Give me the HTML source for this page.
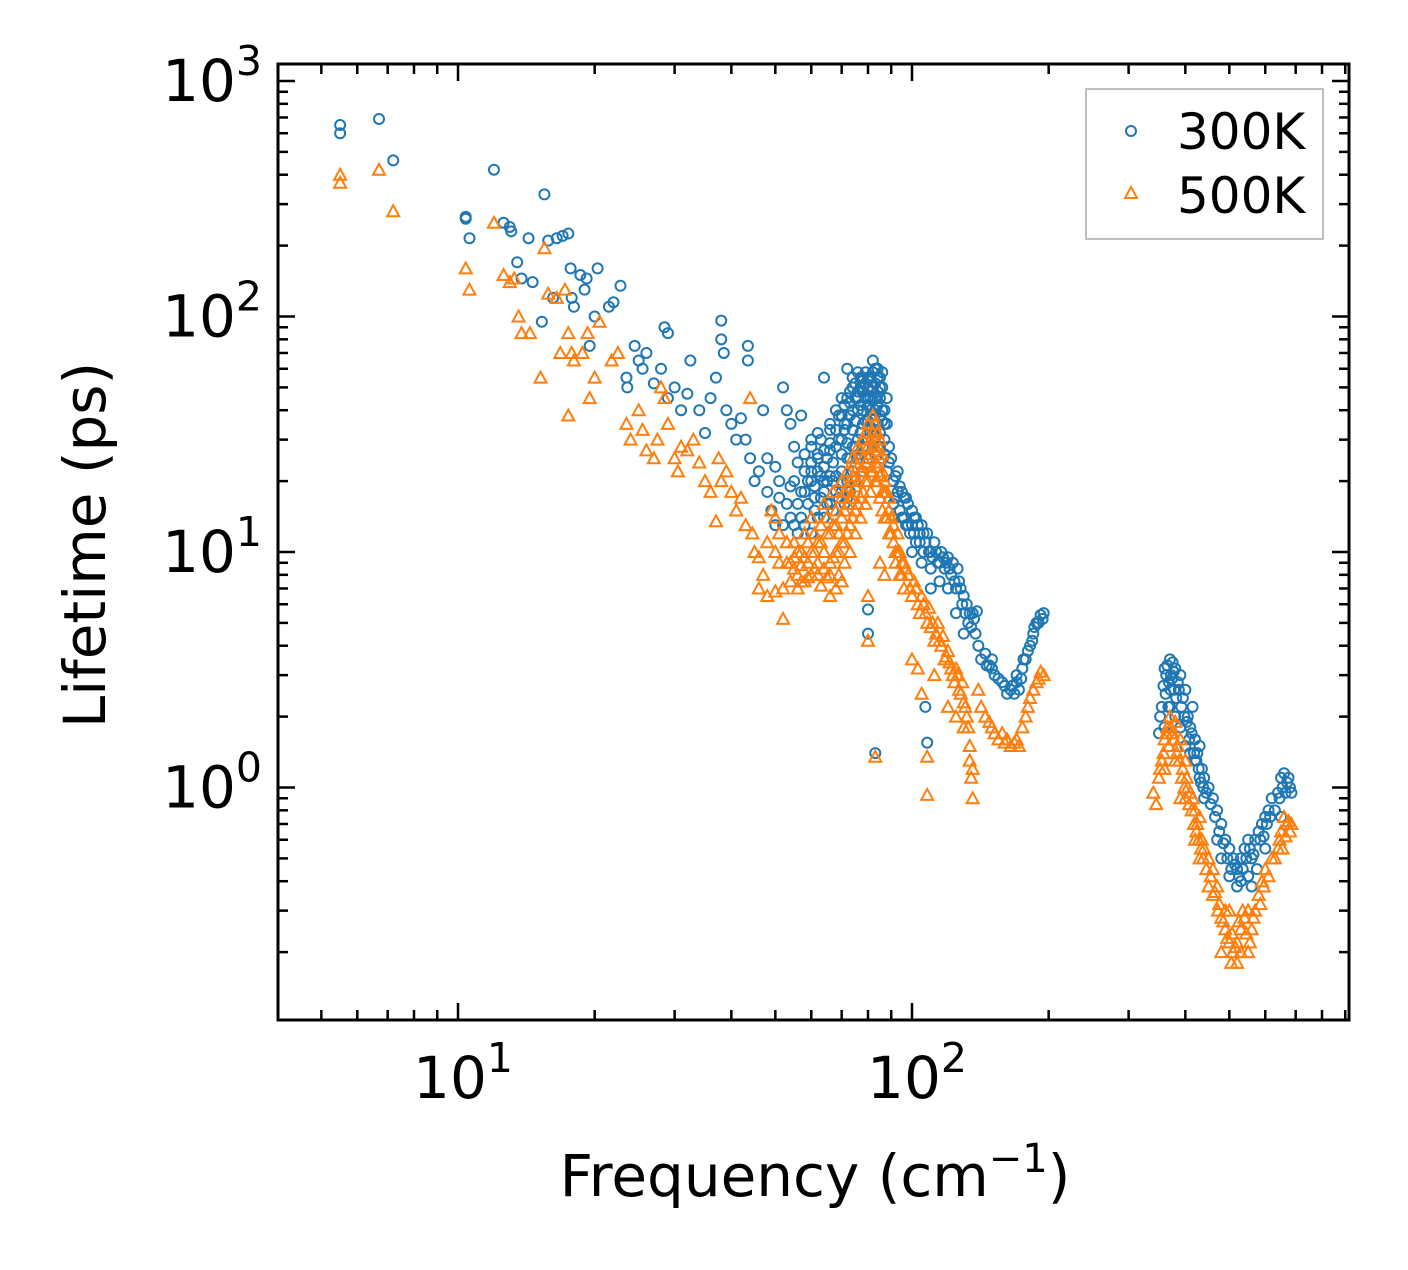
<!DOCTYPE html>
<html><head><meta charset="utf-8"><style>
html,body{margin:0;padding:0;background:#fff;}
svg{display:block;font-family:"DejaVu Sans","Liberation Sans",sans-serif;}
</style></head><body>
<svg id="chart" width="1408" height="1270" viewBox="0 0 1408 1270" xmlns="http://www.w3.org/2000/svg">
<g id="marks300"></g>
<g id="marks500"></g>
<g id="ticks"></g>
<rect x="278" y="64" width="1071" height="956" fill="none" stroke="#000" stroke-width="3"/>
<text x="815" y="1196" font-size="58" text-anchor="middle">Frequency (cm<tspan dy="-24" font-size="40">−1</tspan><tspan dy="24">)</tspan></text>
<text transform="translate(105,545) rotate(-90)" font-size="58" text-anchor="middle">Lifetime (ps)</text>
<g>
<rect x="1086" y="89" width="237" height="150" fill="#fff" stroke="#aaa" stroke-width="1.5"/>
<circle cx="1131" cy="131" r="5" fill="none" stroke="#1f77b4" stroke-width="2"/>
<text x="1177" y="149" font-size="50">300K</text>
<path d="M1131,187 L1137,198 L1125,198 Z" fill="none" stroke="#ff7f0e" stroke-width="2"/>
<text x="1177" y="213" font-size="50">500K</text>
</g>
</svg>
<script>
const xTickExps = [1, 2];
const yTickExps = [0, 1, 2, 3];
const pts300 = [[5.5,650],[5.5,600],[6.7,690],[7.2,460],[10.4,265],[10.4,260],[10.6,215],[12,420],[12.6,250],[13,240],[13.1,230],[13.5,170],[13.8,145],[14.3,215],[14.6,140],[15.3,95],[15.5,330],[15.8,210],[16.2,120],[16.5,215],[17,220],[17.5,225],[17.7,160],[17.8,120],[18,110],[18.6,150],[19,130],[19.2,145],[19.5,75],[20,100],[20.3,160],[21.5,110],[22,115],[22.8,135],[23.5,55],[23.6,50],[24.5,75],[25,65],[25.5,60],[26,70],[27,52],[28,60],[28.5,90],[29,85],[29,45],[30,50],[31,40],[32,47],[32.5,65],[34,40],[35,32],[36,45],[37,55],[38,96],[38,80],[38.5,70],[39,40],[40,35],[41,30],[42,37],[43,30],[43.5,65],[43.5,75],[44,25],[45,20],[46,22],[47,40],[48,25],[50,23],[51,20],[52,50],[53,40],[54,35],[55,28],[57,38],[58,26],[60,30],[62,32],[64,55],[66,35],[68,40],[70,45],[72,60],[74,55],[76,48],[78,50],[80,45],[82,65],[84,60],[86,50],
[60,20],[60,28],[61,15],[62,22],[63,30],[64,18],[65,25],[66,33],[67,20],[68,28],[69,38],[70,22],[70,30],[71,42],[72,25],[72,35],[73,48],[74,28],[74,40],[75,52],[76,30],[76,45],[77,55],[78,35],[78,48],[79,58],[80,30],[80,42],[81,55],[82,38],[82,50],[83,60],[84,35],[84,48],[85,55],[86,40],[87,30],[88,35],[89,28],[90,25],[70,18],[72,17],[75,20],[78,22],[80,25],[82,28],[85,28],[66,16],[64,14],[58,18],[56,16],[54,14],[52,13],[80,5.7],[80,4.5],[83,1.4],[108,1.55],[107,2.2],
[55,20],[56,24],[57,18],[58,22],[59,16],[60,24],[61,19],[62,26],[63,17],[64,23],[65,20],[66,27],[67,24],[68,21],[69,30],[70,26],[71,33],[72,29],[73,38],[74,33],[75,36],[76,40],[77,42],[78,40],[79,45],[80,50],[81,45],[82,44],[83,52],[84,42],[85,45],[86,36],[87,40],[88,45],[73,25],[75,28],[77,32],[79,36],[81,34],[83,40],[85,38],[87,35],[71,35],[73,43],[75,45],[77,50],[79,52],[81,48],[83,45],[85,50],[86,58],[84,55],[82,58],[80,55],[78,55],[76,58],[74,50],[72,45],[70,38],[68,33],[66,29],[64,27],[62,25],[60,22],[77,26],[79,30],[81,40],[83,33],[85,32],[87,26],[89,24],[88,22],[86,25],[84,28],[82,32],[80,36],[78,28],[76,25],[74,22],[72,20],[70,20],[68,18],[66,21],[64,20],
[48,18],[49,15],[50,13],[51,17],[53,16],[54,19],[55,13],[56,12],[57,14],[58,13],[59,20],[60,12],[61,17],[62,14],[63,21],[65,16],[67,15],[69,17],[71,16],[73,18],
[91,20],[92,17],[93,22],[94,15],[95,18],[96,14],[97,17],[98,13],[100,15],[101,12],[102,14],[104,11],[105,13],[106,10],[108,12],[110,10],[112,11],[114,9],[116,10],[118,8.5],[120,9.5],[122,8],[124,7.5],[126,8.5],[128,7],[130,6.5],[132,6],[134,5.5],[136,5.5],[138,4.5],[140,4],[145,3.7],[148,3.3],[150,3.2],[155,2.9],[160,2.7],[165,2.6],[170,2.8],[175,3.2],[178,3.5],[182,4],[185,4.5],[188,5],[192,5.4],[195,5.5],[172,2.6],[168,2.5],[110,7],[115,7.5],[125,5.5],[130,4.5],
[91,16],[92,21],[93,18],[94,19],[95,14],[96,17],[97,13],[98,16],[99,12],[100,13],[101,14],[102,11],[103,13],[104,12],[106,12],[107,11],[109,10],[111,9.5],[113,10],[115,9],[117,9.5],[119,9],[121,8.5],[123,9],[125,7],[127,7.5],[129,6],[131,5.5],[133,5],[135,4.8],[137,5.2],[139,5.6],[142,3.5],[146,3.3],[152,3.0],[158,2.8],[162,2.5],[166,2.7],[174,2.9],[176,3.5],[180,3.8],[184,4.2],[186,4.8],[190,5],[194,5.2],[100,10],[105,9],[110,8.5],[120,7],[150,3.5],[170,3],
[350,1.7],[355,2.2],[360,3.2],[362,2.5],[365,3.3],[368,2.8],[370,3.5],[372,3],[375,3.4],[378,2.6],[380,3.2],[385,2.8],[390,3.0],[395,2.4],[400,2.6],[405,2.0],[410,1.8],[415,2.2],[420,1.6],[425,1.4],[430,1.5],[435,1.2],[440,1.1],[450,1.0],[460,0.9],[470,0.8],[480,0.7],[490,0.6],[500,0.55],[510,0.5],[520,0.45],[530,0.5],[540,0.55],[550,0.6],[560,0.5],[570,0.6],[580,0.65],[590,0.7],[600,0.75],[610,0.8],[620,0.9],[640,0.95],[650,1.1],[660,1.15],[670,1.05],[680,1.0],[360,1.8],[380,2.0],[400,1.5],[420,1.3],[440,0.9],[480,0.5],[500,0.42],[520,0.38],[550,0.42],[575,0.45],[600,0.55],[650,0.75],
[352,2.0],[358,2.7],[363,3.0],[367,2.2],[371,2.6],[374,2.9],[377,3.1],[382,2.4],[387,2.6],[392,2.2],[398,2.0],[403,1.9],[408,1.6],[413,1.7],[418,1.4],[423,1.3],[428,1.2],[433,1.05],[438,1.0],[445,0.95],[455,0.85],[465,0.75],[475,0.65],[485,0.58],[495,0.5],[505,0.45],[515,0.47],[525,0.42],[535,0.45],[545,0.5],[555,0.55],[565,0.52],[585,0.6],[595,0.62],[605,0.7],[615,0.75],[630,0.8],[645,0.9],[655,1.0],[665,0.95],[675,1.1],[685,0.95],[370,2.2],[390,1.8],[410,1.4],[430,1.1],[470,0.6],[530,0.4],[560,0.38]];
const pts500 = [[5.5,400],[5.5,370],[6.7,420],[7.2,280],[10.4,160],[10.6,130],[12,250],[12.6,150],[13,140],[13.3,145],[13.6,100],[13.8,85],[14.4,85],[15.2,55],[15.5,195],[15.8,125],[16.5,120],[16.8,70],[17.2,130],[17.5,85],[17.5,38],[17.8,70],[18,65],[18.8,70],[19.3,85],[19.5,45],[20,55],[20.5,95],[21.8,65],[22.5,70],[23.5,35],[24,30],[25,40],[25.5,33],[26,27],[27,25],[27.5,30],[28,50],[28.5,45],[29,35],[30,25],[30.5,22],[31,28],[32,27],[33,30],[34,24],[35,20],[36,18],[37,13.5],[37.5,25],[38,20],[39,22],[40,18],[41,15],[42,17],[43,13],[44,45],[44.5,12],[45,10],[46,9.5],[47,8],[48,11],[49,15],[50,14],[51,12],
[46,7],[48,6.5],[50,6.8],[52,5.2],[52,7],[53,9],[55,8.5],[56,10],[57,7.5],[58,12],[59,9],[60,14],[61,10],[62,8],[63,11],[64,16],[65,12],[66,9],[67,18],[68,13],[69,8],[70,20],[70,14],[71,11],[72,22],[72,16],[73,10],[74,25],[74,17],[75,12],[76,28],[76,20],[77,14],[78,30],[78,22],[79,16],[80,35],[80,25],[81,18],[82,38],[82,28],[83,20],[84,32],[84,23],[85,17],[86,26],[86,15],[87,20],[88,14],[89,17],[90,12],[68,7],[70,7.5],[66,6.5],[80,6.5],[80,4.2],[83,1.35],[85,9],[87,8],
[54,9],[55,11],[56,8],[57,10],[58,9.5],[59,11],[60,10],[61,12],[62,11],[63,13],[64,10],[65,14],[66,12],[67,13],[68,15],[69,12],[70,17],[71,15],[72,19],[73,17],[74,21],[75,19],[76,23],[77,22],[78,25],[79,24],[80,28],[81,26],[82,32],[83,30],[84,27],[85,25],[86,22],[87,18],[88,18],[89,15],[90,14],[74,14],[76,16],[78,18],[80,20],[82,22],[84,20],[86,18],[72,12],[70,11],[68,10],[66,8],[64,8.5],[62,9],[60,8],[58,7.5],[56,7],[77,27],[79,32],[81,30],[83,35],[85,30],[75,24],[73,20],[71,18],
[50,10],[51,9],[53,11],[54,7.5],[55,9.5],[57,8.8],[59,7.8],[61,8.5],[63,7.2],[65,7.8],[67,9.5],[69,10],[71,9],[73,13],[75,15],[77,17],[79,20],[81,22],[83,24],[85,21],[87,14],[89,12],
[91,11],[92,9],[93,10],[94,8],[95,9],[96,7],[98,8],[100,6.5],[102,7],[104,5.5],[106,6],[108,5],[110,4.8],[112,4.2],[114,5],[116,4],[118,3.5],[120,3.8],[122,3.2],[124,2.8],[126,3],[128,2.5],[130,2.3],[132,2],[134,1.5],[135,1.1],[136,0.9],[108,1.35],[108,0.93],[100,3.5],[105,2.5],[120,2.2],[140,2.6],[145,2.0],[150,1.8],[155,1.6],[160,1.55],[165,1.5],[170,1.6],[175,1.8],[180,2.2],[185,2.6],[190,2.9],[195,3.0],[158,1.7],[172,1.5],
[91,13],[92,10],[93,12],[94,10],[95,8],[96,9],[97,8.5],[99,7],[101,7.5],[103,6],[105,6.5],[107,5.5],[109,5.8],[111,5],[113,4.5],[115,4.2],[117,4.4],[119,3.6],[121,3.4],[123,3],[125,3.2],[127,2.6],[129,2.8],[131,2.2],[133,1.8],[134,1.3],[136,1.2],[103,3.2],[112,3],[125,2],[130,1.8],[142,2.2],[148,1.9],[152,1.7],[162,1.6],[168,1.55],[178,2],[182,2.4],[188,2.8],[192,3.1],
[340,0.95],[345,0.85],[350,1.1],[355,1.3],[360,1.6],[365,1.8],[370,2.0],[375,1.7],[380,1.9],[385,1.5],[390,1.6],[395,1.2],[400,1.3],[405,1.0],[410,0.95],[415,0.9],[420,0.8],[425,0.7],[430,0.75],[435,0.6],[440,0.55],[450,0.5],[460,0.45],[470,0.38],[475,0.32],[480,0.28],[490,0.25],[500,0.22],[505,0.18],[510,0.2],[520,0.22],[530,0.25],[540,0.28],[550,0.3],[560,0.25],[570,0.3],[580,0.35],[590,0.4],[600,0.45],[620,0.5],[640,0.55],[650,0.65],[660,0.75],[670,0.7],[680,0.65],[360,1.2],[380,1.3],[400,0.9],[430,0.5],[460,0.35],[500,0.3],[520,0.18],[480,0.2],[550,0.2],
[352,1.2],[358,1.4],[363,1.7],[368,1.5],[372,1.8],[378,1.6],[383,1.4],[388,1.3],[393,1.1],[398,1.0],[403,1.1],[408,0.85],[413,0.8],[418,0.7],[423,0.65],[428,0.6],[433,0.55],[438,0.5],[445,0.45],[455,0.42],[465,0.36],[472,0.3],[485,0.27],[495,0.23],[507,0.24],[515,0.21],[525,0.27],[535,0.3],[545,0.24],[555,0.22],[565,0.28],[585,0.32],[595,0.38],[610,0.42],[630,0.5],[645,0.6],[655,0.55],[665,0.62],[675,0.72],[685,0.7],[390,0.9],[420,0.6],[450,0.38],[490,0.3],[530,0.2]];

const NS = "http://www.w3.org/2000/svg";
function xPos(f){ return 458 + (Math.log10(f) - 1) * 454; }
function yPos(v){ return 81 + (3 - Math.log10(v)) * 235.5; }
const X0=278, X1=1349, Y0=64, Y1=1020;
const g3 = document.getElementById('marks300');
pts300.forEach(p=>{
  const c=document.createElementNS(NS,'circle');
  c.setAttribute('cx',xPos(p[0])); c.setAttribute('cy',yPos(p[1])); c.setAttribute('r',5);
  c.setAttribute('fill','none'); c.setAttribute('stroke','#1f77b4'); c.setAttribute('stroke-width',2);
  
  
  g3.appendChild(c);
});
const g5 = document.getElementById('marks500');
pts500.forEach(p=>{
  const x=xPos(p[0]), y=yPos(p[1]);
  const t=document.createElementNS(NS,'path');
  t.setAttribute('d',`M${x},${y-6} L${x+6},${y+5} L${x-6},${y+5} Z`);
  t.setAttribute('fill','none'); t.setAttribute('stroke','#ff7f0e'); t.setAttribute('stroke-width',2);
  
  
  g5.appendChild(t);
});
const gt = document.getElementById('ticks');
function line(x1,y1,x2,y2){
  const l=document.createElementNS(NS,'line');
  l.setAttribute('x1',x1);l.setAttribute('y1',y1);l.setAttribute('x2',x2);l.setAttribute('y2',y2);
  l.setAttribute('stroke','#000');l.setAttribute('stroke-width',2.5);
  
  
  gt.appendChild(l);
}
function label(x,y,exp,anchor,name){
  const t=document.createElementNS(NS,'text');
  t.setAttribute('x',x);t.setAttribute('y',y);t.setAttribute('font-size',58);t.setAttribute('text-anchor',anchor);
  t.innerHTML='10<tspan dy="-26" font-size="41">'+exp+'</tspan>';
  
  
  gt.appendChild(t);
}
for(let e=0;e<=3;e++){
  for(let m=1;m<=9;m++){
    const f=m*Math.pow(10,e);
    const x=xPos(f); if(x<X0+1||x>X1-1) continue;
    const L=m===1?17:10;
    line(x,Y1,x,Y1-L); line(x,Y0,x,Y0+L);
  }
}
for(let e=-1;e<=3;e++){
  for(let m=1;m<=9;m++){
    const v=m*Math.pow(10,e);
    const y=yPos(v); if(y<Y0+1||y>Y1-1) continue;
    const L=m===1?17:10;
    line(X0,y,X0+L,y); line(X1,y,X1-L,y);
  }
}
xTickExps.forEach(e=>label(xPos(Math.pow(10,e))+5,1098,e,'middle','x-tick-label'));
yTickExps.forEach(e=>label(262,yPos(Math.pow(10,e))+20,e,'end','y-tick-label'));
</script>
</body></html>
